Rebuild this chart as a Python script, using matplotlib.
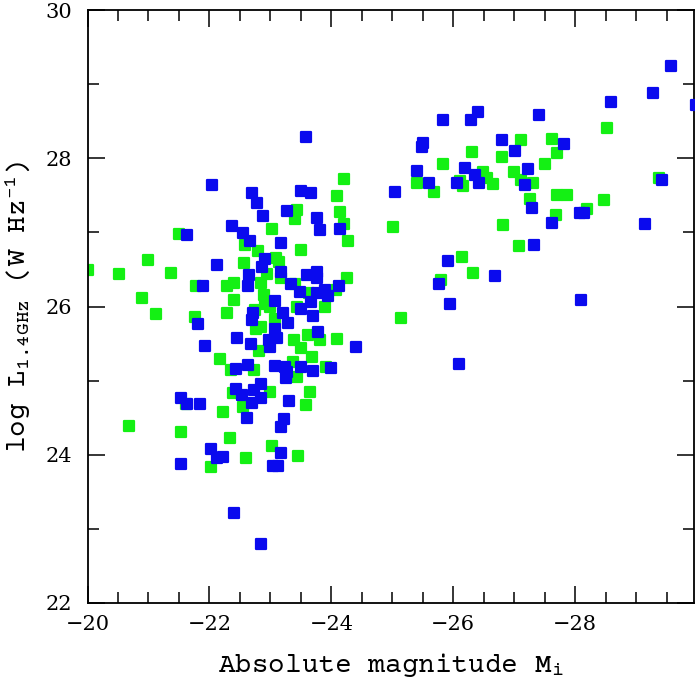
import numpy as np
import matplotlib
matplotlib.use('Agg')
import matplotlib.pyplot as plt
from matplotlib.markers import MarkerStyle
from matplotlib import font_manager as fm

# pick a typewriter-like slab font for the axis labels
label_font='DejaVu Sans Mono'
for name in ['Courier Prime','Cousine','Liberation Mono']:
    try:
        fm.findfont(fm.FontProperties(family=name),fallback_to_default=False)
        label_font=name
        break
    except Exception:
        pass

plt.rcParams['mathtext.fontset']='custom'
plt.rcParams['mathtext.rm']=label_font
plt.rcParams['mathtext.it']=label_font

# green sample (M_i, log L)
green_x=[-24.21,-24.10,-23.44,-23.40,-24.14,-24.21,-23.03,-25.02,-21.50,-24.28,
         -22.58,-22.80,-23.51,-23.10,-20.99,-22.56,-23.14,-20.01,-20.52,-21.37,
         -22.95,-23.17,-24.25,-22.84,-22.41,-22.29,-21.78,-23.41,-20.90,-22.41,
         -22.89,-22.92,-23.63,-24.07,-22.75,-22.99,-23.43,-23.89,-21.12,-21.76,
         -22.29,-25.15,-23.07,-22.77,-22.84,-23.39,-23.62,-23.81,-24.10,-23.50,
         -22.82,-22.17,-23.68,-22.36,-22.73,-23.37,-23.91,-23.44,
         -22.99,-23.65,-22.39,-21.62,-23.58,-22.55,-22.22,-20.68,-21.53,-22.34,
         -23.02,-22.60,-23.45,-22.03,
         -28.53,-27.12,-27.62,-26.31,-26.80,-27.71,-25.84,-27.50,-25.41,-25.68,
         -26.11,-26.16,-26.49,-26.55,-26.65,-26.99,-27.11,-27.31,-27.26,-27.70,
         -27.87,-28.19,-28.48,-27.68,-29.37,-26.82,-27.08,-26.15,-26.32,-25.80]
green_y=[27.72,27.49,27.30,27.18,27.28,27.11,27.05,27.07,26.98,26.89,
         26.83,26.75,26.76,26.65,26.63,26.59,26.60,26.49,26.44,26.45,
         26.44,26.38,26.39,26.32,26.32,26.27,26.27,26.30,26.11,26.09,
         26.15,26.04,26.18,26.22,25.95,25.99,26.00,26.00,25.90,25.86,
         25.91,25.84,25.83,25.69,25.73,25.55,25.61,25.55,25.56,25.44,
         25.40,25.29,25.32,25.14,25.14,25.25,25.19,25.05,
         24.84,24.84,24.83,24.69,24.67,24.65,24.57,24.39,24.31,24.23,
         24.12,23.95,23.98,23.83,
         28.41,28.25,28.26,28.09,28.02,28.07,27.92,27.92,27.67,27.55,
         27.69,27.62,27.81,27.74,27.65,27.81,27.71,27.67,27.45,27.50,
         27.50,27.32,27.44,27.24,27.74,27.10,26.81,26.67,26.45,26.36]

# blue sample
blue_x=[-23.58,-22.04,-22.70,-23.50,-23.66,-25.05,-22.78,-23.28,-22.88,-23.76,
        -22.37,-23.81,-24.14,-21.63,-22.55,-22.66,-23.17,-22.92,-22.12,-22.86,
        -23.18,-22.65,-23.60,-23.76,-23.77,-21.90,-22.63,-23.34,-23.48,-24.12,
        -23.77,-23.90,-23.94,-23.07,-23.67,-23.50,-22.71,-23.21,-23.70,-22.70,
        -23.29,-21.81,-23.07,-23.78,-22.45,-23.11,-22.97,-22.68,-22.99,-21.92,
        -24.40,-22.44,-22.63,-23.07,-23.24,-23.50,-23.70,-23.99,-23.28,-23.25,
        -22.44,-22.54,-22.73,-22.84,-22.84,-22.70,-21.53,-21.63,-21.84,-23.31,
        -22.62,-23.22,-23.18,-22.03,-22.12,-22.23,-23.17,-21.53,-23.05,-23.13,
        -22.40,-22.85,
        -29.58,-29.98,-29.28,-28.59,-27.40,-26.41,-25.83,-26.29,-25.50,-25.48,
        -26.80,-27.81,-27.01,-25.41,-26.19,-27.23,-25.60,-26.07,-26.36,-26.42,
        -27.17,-29.43,-27.29,-28.08,-28.14,-27.62,-29.14,-27.33,-25.91,-26.69,
        -25.76,-25.95,-28.09,-26.10]
blue_y=[28.28,27.64,27.53,27.56,27.53,27.54,27.39,27.29,27.22,27.19,
        27.09,27.03,27.05,26.97,26.99,26.88,26.85,26.64,26.56,26.53,
        26.47,26.43,26.42,26.47,26.38,26.28,26.27,26.30,26.20,26.27,
        26.18,26.22,26.14,26.08,26.06,25.96,25.91,25.91,25.87,25.82,
        25.78,25.77,25.69,25.66,25.58,25.58,25.55,25.49,25.45,25.47,
        25.46,25.16,25.21,25.20,25.18,25.18,25.13,25.17,25.12,25.03,
        24.89,24.81,24.87,24.95,24.76,24.70,24.77,24.68,24.68,24.72,
        24.50,24.48,24.37,24.08,23.96,23.97,24.02,23.88,23.85,23.85,
        23.21,22.79,
        29.24,28.72,28.88,28.76,28.58,28.62,28.52,28.51,28.21,28.15,
        28.24,28.19,28.10,27.83,27.87,27.85,27.66,27.66,27.77,27.66,
        27.64,27.71,27.33,27.26,27.26,27.12,27.11,26.83,26.61,26.41,
        26.31,26.04,26.09,25.22]

fig=plt.figure(figsize=(6.95,6.88),dpi=100)
ax=fig.add_axes([87.5/695,85/688,606.5/695,593/688])

mk=MarkerStyle('s',joinstyle='round')
ax.scatter(green_x,green_y,s=42,marker=mk,color='#14f014',edgecolors='#14f014',linewidths=1.6,zorder=2)
ax.scatter(blue_x,blue_y,s=42,marker=mk,color='#0a0aee',edgecolors='#0a0aee',linewidths=1.6,zorder=3)

ax.set_xlim(-20,-29.95)
ax.set_ylim(22,30)
ax.set_xticks([-20,-22,-24,-26,-28])
ax.set_xticks(np.arange(-20,-30,-0.5),minor=True)
ax.set_yticks([22,24,26,28,30])
ax.set_yticks(np.arange(22,30,1),minor=True)
ax.set_xticklabels(['\u221220','\u221222','\u221224','\u221226','\u221228'])

ax.tick_params(which='both',direction='in',top=True,right=True,width=1.1,
               labelsize=15,labelfontfamily='DejaVu Serif')
ax.tick_params(which='major',length=12,pad=9)
ax.tick_params(which='minor',length=8)
ax.tick_params(axis='y',pad=11)
for s in ax.spines.values():
    s.set_linewidth(1.3)

ax.set_xlabel('Absolute magnitude M$_{\\rm i}$',family=label_font,fontsize=20,labelpad=12)
ax.set_ylabel('log L$_{\\rm 1.4GHz}$ (W Hz$^{-1}$)',family=label_font,fontsize=20,labelpad=10)

plt.savefig('out.png',dpi=100)
